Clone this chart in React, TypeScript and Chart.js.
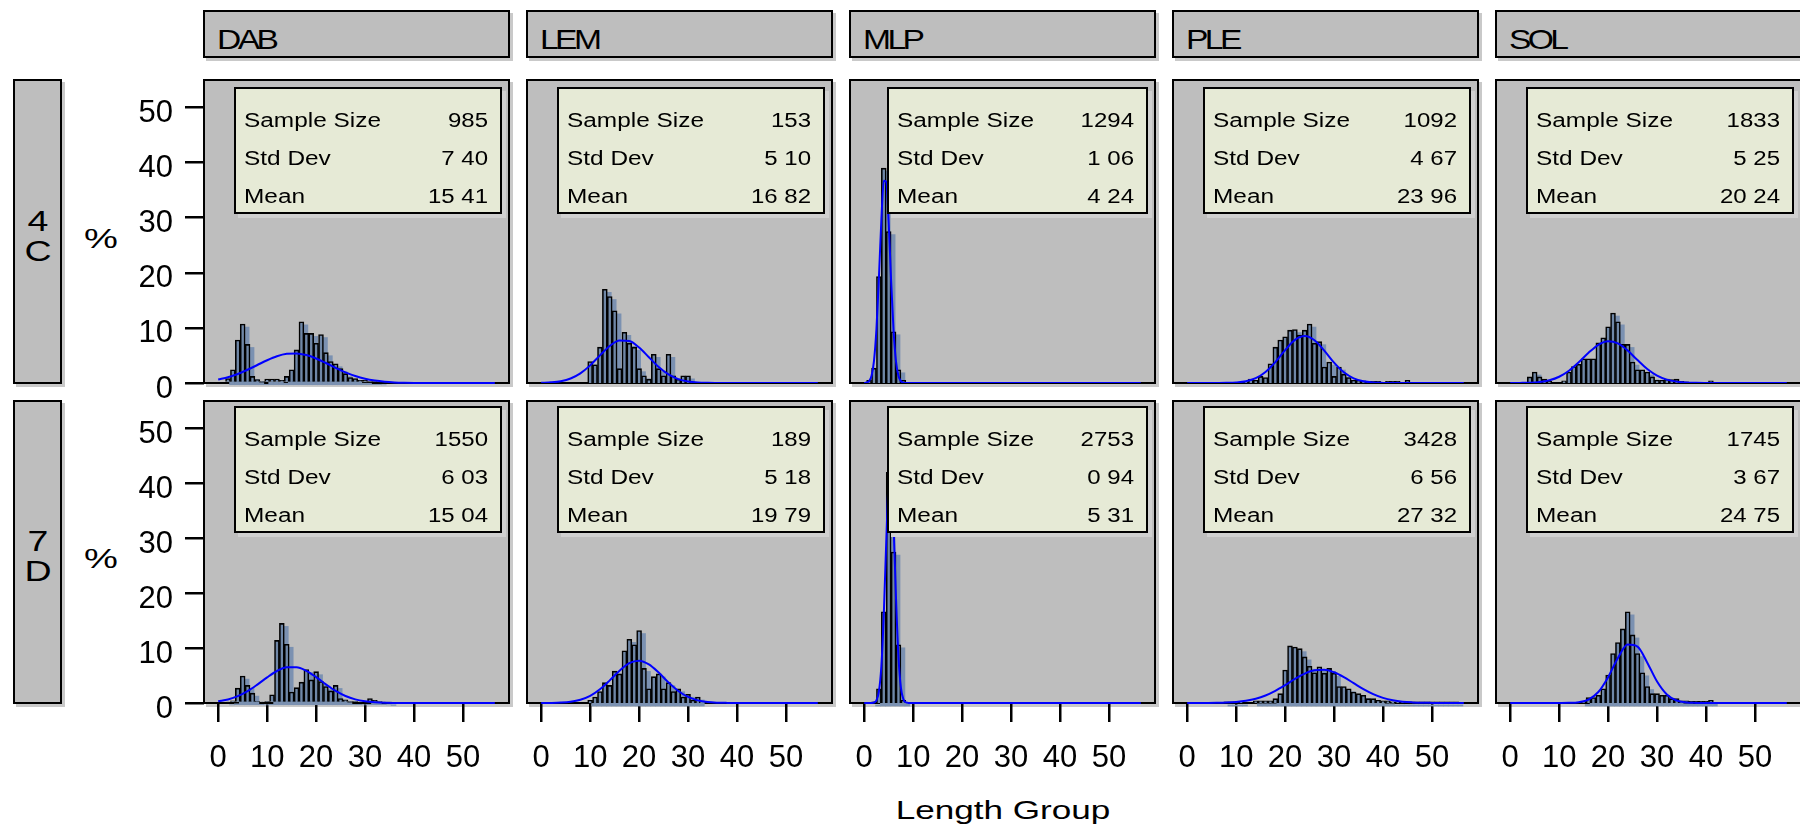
import React, { useEffect, useRef } from "react";
import { Chart, registerables } from "chart.js";

Chart.register(...registerables);

// ---------------- data ----------------
const speciesCodes = ["DAB", "LEM", "MLP", "PLE", "SOL"];
const areaLabels = [["4", "C"], ["7", "D"]];
const xTickValues = [0, 10, 20, 30, 40, 50];
const yTickValues = [0, 10, 20, 30, 40, 50];
const xAxisTitle = "Length Group";
const yAxisTitle = "%";
const statLabels = ["Sample Size", "Std Dev", "Mean"];

// [sample size, std dev, mean] per species, as printed
const stats4C = [
  ["985", "7 40", "15 41"],
  ["153", "5 10", "16 82"],
  ["1294", "1 06", "4 24"],
  ["1092", "4 67", "23 96"],
  ["1833", "5 25", "20 24"],
];
const stats7D = [
  ["1550", "6 03", "15 04"],
  ["189", "5 18", "19 79"],
  ["2753", "0 94", "5 31"],
  ["3428", "6 56", "27 32"],
  ["1745", "3 67", "24 75"],
];

// histogram percentages, index = length group 0, 1, 2, ...
const dab4C = [0, 0, 0.8, 2.4, 7.8, 10.7, 7.0, 1.2, 0.6, 0.3, 0.7, 0.7, 0.7, 0.5, 1.2, 2.4, 6.0, 11.1, 9.0, 9.0, 7.2, 8.8, 5.5, 3.9, 3.5, 2.6, 1.7, 1.0, 0.8, 0.5, 0.5, 0.3, 0.3, 0.2];
const lem4C = [0, 0, 0, 0, 0, 0, 0, 0, 0, 0, 3.9, 3.3, 6.5, 17.0, 15.7, 13.1, 2.6, 9.2, 7.2, 6.5, 2.6, 1.3, 0.7, 5.2, 2.6, 1.3, 5.2, 1.3, 0.7, 1.3, 1.3];
const mlp4C = [0, 0.5, 2.7, 19.3, 39.0, 27.5, 9.3, 2.4, 0.5];
const ple4C = [0, 0, 0, 0, 0, 0, 0, 0, 0, 0, 0, 0, 0.2, 0.7, 0.5, 1.2, 1.0, 3.5, 6.5, 7.8, 8.4, 9.6, 9.7, 8.7, 9.6, 10.7, 7.2, 7.5, 2.9, 3.8, 1.2, 2.9, 1.6, 1.0, 0.5, 0.5, 0.4, 0.3, 0.3, 0.3, 0, 0.3, 0.3, 0.3, 0, 0.5];
const sol4C = [0, 0, 0, 0, 1.1, 2.0, 1.1, 0.7, 0.3, 0, 0, 0.4, 2.0, 3.0, 3.4, 4.4, 4.4, 4.4, 7.3, 8.2, 10.2, 12.7, 11.1, 7.0, 7.0, 3.8, 2.4, 2.4, 2.0, 1.1, 0.5, 0.5, 0.7, 0.6, 0.7, 0.3, 0.2, 0, 0, 0, 0, 0.4];
const dab7D = [0, 0, 0.2, 0.4, 2.7, 4.9, 3.2, 1.8, 0.3, 0.2, 0.3, 1.5, 11.4, 14.5, 10.7, 2.0, 2.8, 3.8, 6.1, 4.2, 5.7, 3.9, 3.0, 2.2, 3.2, 0.8, 0.6, 0.3, 0.3, 0.2, 0.3, 0.8, 0.5, 0.3, 0.2, 0.1];
const lem7D = [0, 0, 0, 0, 0, 0, 0, 0, 0, 0, 0.5, 1.1, 2.1, 3.7, 3.2, 5.8, 5.3, 9.5, 11.6, 10.6, 13.2, 6.3, 2.6, 4.8, 5.3, 2.6, 3.7, 2.1, 2.6, 1.1, 1.6, 0.5, 1.1];
const mlp7D = [0, 0, 0.2, 2.6, 16.6, 42.0, 27.5, 10.6, 0.5];
const ple7D = [0, 0, 0, 0, 0, 0, 0, 0, 0.2, 0.2, 0.2, 0.2, 0, 0, 0.4, 0.4, 0.4, 0.4, 0.8, 1.7, 6.0, 10.4, 10.2, 9.9, 8.4, 6.7, 5.5, 6.6, 5.4, 6.3, 5.4, 3.0, 3.0, 2.6, 2.0, 1.7, 1.4, 0.8, 0.8, 0.5, 0.4, 0.4, 0.2, 0.2, 0.2, 0.2, 0.2, 0.2, 0.2, 0.2, 0.2, 0.2, 0.2, 0.2, 0.2, 0.2];
const sol7D = [0, 0, 0, 0, 0, 0, 0, 0, 0, 0, 0, 0, 0, 0, 0, 0.3, 1.0, 1.0, 1.4, 2.6, 5.1, 9.0, 11.0, 13.5, 16.6, 12.4, 9.0, 5.5, 3.0, 1.7, 1.7, 1.4, 1.4, 0.8, 0.8, 0.4, 0.4, 0.3, 0.3, 0.3, 0.3, 0.5];

// fitted normal curves (percent), read at these lengths
const curveXWide = [0, 2, 4, 6, 8, 10, 12, 14, 16, 18, 20, 22, 24, 26, 28, 30, 32, 34, 36, 38, 40, 42, 44, 46, 48, 50, 52, 54, 56, 56.5];
const curveXNarrow = [0, 1, 1.5, 2, 2.5, 3, 3.5, 4, 4.5, 5, 5.5, 6, 6.5, 7, 7.5, 8, 8.5, 9, 10, 20, 30, 40, 50, 56.5];
const curveDab4C = [0.62, 1.04, 1.64, 2.4, 3.27, 4.13, 4.85, 5.29, 5.37, 5.07, 4.45, 3.63, 2.75, 1.94, 1.27, 0.77, 0.44, 0.23, 0.11, 0.05, 0.02, 0.01, 0, 0, 0, 0, 0, 0, 0, 0];
const curveLem4C = [0.03, 0.12, 0.33, 0.82, 1.75, 3.2, 5.01, 6.71, 7.72, 7.62, 6.44, 4.67, 2.9, 1.55, 0.71, 0.28, 0.09, 0.03, 0.01, 0, 0, 0, 0, 0, 0, 0, 0, 0, 0, 0];
const curveMlp4C = [0.01, 0.35, 1.33, 4.03, 9.78, 18.99, 29.5, 36.69, 36.53, 29.11, 18.57, 9.48, 3.88, 1.27, 0.33, 0.07, 0.01, 0, 0, 0, 0, 0, 0, 0];
const curvePle4C = [0, 0, 0, 0.01, 0.03, 0.1, 0.32, 0.88, 2.0, 3.78, 5.96, 7.82, 8.54, 7.77, 5.88, 3.7, 1.94, 0.85, 0.31, 0.09, 0.02, 0, 0, 0, 0, 0, 0, 0, 0, 0];
const curveSol4C = [0, 0.02, 0.06, 0.19, 0.5, 1.13, 2.22, 3.75, 5.48, 6.94, 7.59, 7.18, 5.88, 4.16, 2.55, 1.35, 0.62, 0.25, 0.08, 0.03, 0.01, 0, 0, 0, 0, 0, 0, 0, 0, 0];
const curveDab7D = [0.3, 0.64, 1.24, 2.15, 3.35, 4.67, 5.83, 6.52, 6.53, 5.87, 4.72, 3.4, 2.19, 1.27, 0.66, 0.31, 0.13, 0.05, 0.02, 0.01, 0, 0, 0, 0, 0, 0, 0, 0, 0, 0];
const curveLem7D = [0.01, 0.02, 0.07, 0.22, 0.58, 1.29, 2.49, 4.12, 5.89, 7.26, 7.7, 7.03, 5.54, 3.75, 2.19, 1.1, 0.48, 0.18, 0.06, 0.02, 0.01, 0, 0, 0, 0, 0, 0, 0, 0, 0];
const curveMlp7D = [0, 0, 0.01, 0.09, 0.49, 2.07, 6.65, 16.07, 29.28, 40.19, 41.58, 32.42, 19.04, 8.43, 2.81, 0.71, 0.13, 0.02, 0, 0, 0, 0, 0, 0];
const curvePle7D = [0, 0, 0.01, 0.03, 0.08, 0.19, 0.4, 0.77, 1.37, 2.22, 3.26, 4.38, 5.35, 5.96, 6.05, 5.59, 4.72, 3.62, 2.53, 1.62, 0.94, 0.5, 0.24, 0.11, 0.04, 0.02, 0.01, 0, 0, 0];
const curveSol7D = [0, 0, 0, 0, 0, 0.01, 0.03, 0.15, 0.63, 2.0, 4.71, 8.21, 10.65, 10.26, 7.35, 3.91, 1.55, 0.45, 0.1, 0.02, 0, 0, 0, 0, 0, 0, 0, 0, 0, 0];

const histRows = [
  [dab4C, lem4C, mlp4C, ple4C, sol4C],
  [dab7D, lem7D, mlp7D, ple7D, sol7D],
];
const curveRows = [
  [curveDab4C, curveLem4C, curveMlp4C, curvePle4C, curveSol4C],
  [curveDab7D, curveLem7D, curveMlp7D, curvePle7D, curveSol7D],
];
const curveXByCol = [curveXWide, curveXWide, curveXNarrow, curveXWide, curveXWide];
const statRows = [stats4C, stats7D];

// ---------------- layout / style ----------------
const PANEL_LEFT = [204, 527, 850, 1173, 1496];
const PANEL_W = 305;
const ROW_TOP = [80, 401];
const ROW_H = [303, 302];
const Y_AXIS_W = 90;
const X_AXIS_H = 80;
const LABEL_ROOM = 26; // extra canvas room below row 1 for its "0" label
const X_MIN = -2.9;
const X_MAX = 59.4;
const Y_MAX = 55;
const BOX_LEFT_OFF = [30, 30, 37, 30, 30];
const BOX_TOP_OFF = [7, 5];
const BOX_H = 127;
const GRAY = "#bebebe";
const SHADOW = "#c9c9c9";
const BAR_FILL = "#6f87a7";
const BAR_SHADOW = "#7b91b1";
const HTML_FONT = '"Liberation Sans", Arial, sans-serif';
const TICK_FONT = "Liberation Sans";

const shadowShift = {
  id: "shadowShift",
  beforeDatasetDraw(chart: any, args: any) {
    const ds = chart.data.datasets[args.index];
    if (ds && ds.isShadow) {
      chart.ctx.save();
      chart.ctx.translate(4, 3);
    }
  },
  afterDatasetDraw(chart: any, args: any) {
    const ds = chart.data.datasets[args.index];
    if (ds && ds.isShadow) chart.ctx.restore();
  },
};

function zeroPadding(s: any) {
  s.paddingTop = 0;
  s.paddingBottom = 0;
  s.paddingLeft = 0;
  s.paddingRight = 0;
}

function HistPanel({ row, col }: { row: number; col: number }) {
  const ref = useRef<HTMLCanvasElement | null>(null);
  const showY = col === 0;
  const showX = row === 1;
  const extraBottom = showX ? X_AXIS_H : showY ? LABEL_ROOM : 0;
  const width = PANEL_W + (showY ? Y_AXIS_W : 0);
  const height = ROW_H[row] + extraBottom;

  useEffect(() => {
    const bins = histRows[row][col];
    const cx = curveXByCol[col];
    const cy = curveRows[row][col];
    const barData = bins.map((v, i) => ({ x: i, y: v > 0 ? v : null }));
    const lineData = cx.map((x, i) => ({ x, y: cy[i] }));
    const tickGrid = {
      display: true,
      drawOnChartArea: false,
      drawTicks: true,
      tickLength: 19,
      tickWidth: 2.5,
      tickColor: "#000",
      lineWidth: 2.5,
      color: "#000",
      offset: false,
    };
    const chart = new Chart(ref.current as HTMLCanvasElement, {
      type: "bar",
      data: {
        datasets: [
          {
            type: "line",
            data: lineData,
            borderColor: "#0000ff",
            borderWidth: 2,
            pointRadius: 0,
            cubicInterpolationMode: "monotone",
            order: 0,
            clip: 3,
          } as any,
          {
            type: "bar",
            data: barData,
            backgroundColor: BAR_FILL,
            borderColor: "#000",
            borderWidth: 1.6,
            barPercentage: 1,
            categoryPercentage: 1,
            grouped: false,
            order: 1,
          } as any,
          {
            type: "bar",
            data: barData,
            backgroundColor: BAR_SHADOW,
            borderWidth: 0,
            barPercentage: 1,
            categoryPercentage: 1,
            grouped: false,
            order: 2,
            clip: false,
            isShadow: true,
          } as any,
        ],
      },
      options: {
        responsive: false,
        maintainAspectRatio: false,
        animation: false,
        devicePixelRatio: 1,
        layout: {
          padding: { top: 0, left: 0, right: 0, bottom: !showX && showY ? LABEL_ROOM : 0 },
          autoPadding: false,
        },
        events: [],
        plugins: { legend: { display: false }, tooltip: { enabled: false } },
        scales: {
          x: {
            type: "linear",
            min: X_MIN,
            max: X_MAX,
            offset: false,
            display: showX,
            grid: tickGrid,
            border: { display: false },
            ticks: {
              color: "#000",
              font: { family: TICK_FONT, size: 31 },
              padding: 18,
              maxRotation: 0,
              autoSkip: false,
            },
            afterBuildTicks: (s: any) => {
              s.ticks = xTickValues.map((v) => ({ value: v }));
            },
            afterFit: (s: any) => {
              s.height = showX ? X_AXIS_H : 0;
              zeroPadding(s);
            },
          },
          y: {
            type: "linear",
            min: 0,
            max: Y_MAX,
            display: showY,
            grid: tickGrid,
            border: { display: false },
            ticks: {
              color: "#000",
              font: { family: TICK_FONT, size: 31 },
              padding: 12,
              labelOffset: 6,
            },
            afterBuildTicks: (s: any) => {
              s.ticks = yTickValues.map((v) => ({ value: v }));
            },
            afterFit: (s: any) => {
              s.width = showY ? Y_AXIS_W : 0;
              zeroPadding(s);
            },
          },
        } as any,
      },
      plugins: [shadowShift],
    });
    return () => chart.destroy();
  }, [row, col]);

  return (
    <canvas
      ref={ref}
      width={width}
      height={height}
      style={{
        position: "absolute",
        left: PANEL_LEFT[col] - (showY ? Y_AXIS_W : 0),
        top: ROW_TOP[row],
        width,
        height,
        display: "block",
      }}
    />
  );
}

function Frame({ left, top, width, height, bg }: any) {
  return (
    <div
      style={{
        position: "absolute",
        left,
        top,
        width,
        height,
        boxSizing: "border-box",
        border: "2px solid #000",
        background: bg,
        boxShadow: `3px 3px 0 ${SHADOW}`,
      }}
    />
  );
}

function StretchText({ x, y, text, size, sx, anchor, spacing }: any) {
  const origin = anchor === "left" ? "left center" : anchor === "right" ? "right center" : "center center";
  const tx = anchor === "left" ? "0" : anchor === "right" ? "-100%" : "-50%";
  return (
    <div
      style={{
        position: "absolute",
        left: x,
        top: y,
        fontFamily: HTML_FONT,
        fontSize: size,
        lineHeight: 1,
        whiteSpace: "nowrap",
        color: "#000",
        letterSpacing: spacing || 0,
        transformOrigin: origin,
        transform: `translate(${tx}, -50%) scaleX(${sx})`,
      }}
    >
      {text}
    </div>
  );
}

export default function App() {
  const cells: Array<{ row: number; col: number }> = [];
  for (let r = 0; r < 2; r++) for (let c = 0; c < 5; c++) cells.push({ row: r, col: c });

  return (
    <div
      style={{
        position: "absolute",
        left: 0,
        top: 0,
        width: 1800,
        height: 826,
        overflow: "hidden",
        background: "#fff",
      }}
    >
      {speciesCodes.map((s, c) => (
        <React.Fragment key={s}>
          <Frame left={PANEL_LEFT[c] - 1} top={10} width={PANEL_W + 2} height={48} bg={GRAY} />
          <StretchText x={PANEL_LEFT[c] + 13} y={40} text={s} size={28} sx={1.2} anchor="left" spacing={-3} />
        </React.Fragment>
      ))}

      {areaLabels.map((lab, r) => {
        const mid = ROW_TOP[r] + ROW_H[r] / 2 + 4;
        return (
          <React.Fragment key={lab.join("")}>
            <Frame left={13} top={ROW_TOP[r] - 1} width={49} height={ROW_H[r] + 2} bg={GRAY} />
            <StretchText x={37.5} y={mid - 15} text={lab[0]} size={30} sx={1.25} anchor="center" />
            <StretchText x={37.5} y={mid + 15} text={lab[1]} size={30} sx={1.25} anchor="center" />
            <StretchText x={101} y={ROW_TOP[r] + ROW_H[r] / 2 + 7} text={yAxisTitle} size={28} sx={1.36} anchor="center" />
          </React.Fragment>
        );
      })}

      {cells.map(({ row, col }) => (
        <Frame
          key={`f${row}${col}`}
          left={PANEL_LEFT[col] - 1}
          top={ROW_TOP[row] - 1}
          width={PANEL_W + 2}
          height={ROW_H[row] + 2}
          bg={GRAY}
        />
      ))}

      {cells.map(({ row, col }) => (
        <HistPanel key={`c${row}${col}`} row={row} col={col} />
      ))}

      {cells.map(({ row, col }) => {
        const bl = PANEL_LEFT[col] + BOX_LEFT_OFF[col];
        const br = PANEL_LEFT[col] + PANEL_W - 7;
        const bt = ROW_TOP[row] + BOX_TOP_OFF[row];
        const vals = statRows[row][col];
        return (
          <React.Fragment key={`s${row}${col}`}>
            <div
              style={{
                position: "absolute",
                left: bl,
                top: bt,
                width: br - bl,
                height: BOX_H,
                boxSizing: "border-box",
                border: "2px solid #000",
                background: "#e6ead6",
                boxShadow: "4px 4px 0 #d0d0d0",
              }}
            />
            {statLabels.map((lab, i) => (
              <React.Fragment key={lab}>
                <StretchText x={bl + 10} y={bt + 32.5 + 38 * i} text={lab} size={20} sx={1.22} anchor="left" />
                <StretchText x={br - 14} y={bt + 32.5 + 38 * i} text={vals[i]} size={20} sx={1.2} anchor="right" />
              </React.Fragment>
            ))}
          </React.Fragment>
        );
      })}

      <StretchText x={1003} y={810} text={xAxisTitle} size={26} sx={1.35} anchor="center" />
    </div>
  );
}
